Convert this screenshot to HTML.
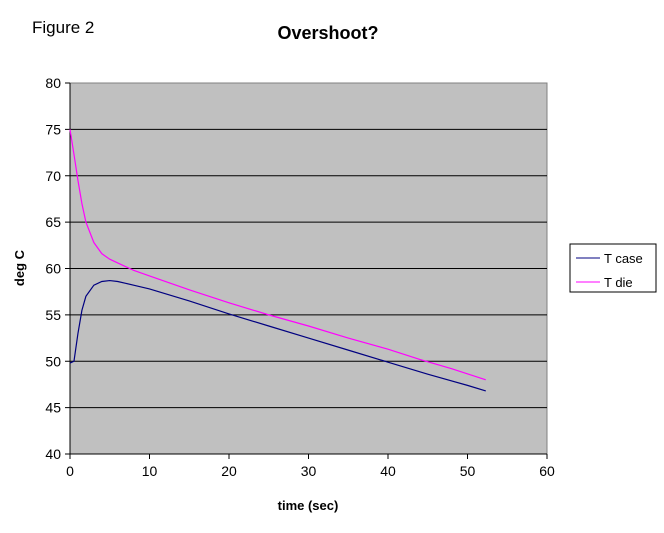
<!DOCTYPE html>
<html><head><meta charset="utf-8"><style>
body{margin:0;background:#fff;font-family:"Liberation Sans",Arial,sans-serif;}
</style></head><body>
<svg width="664" height="528" xmlns="http://www.w3.org/2000/svg" font-family="Liberation Sans, Arial, sans-serif">
<text x="32" y="33" font-size="17">Figure 2</text>
<text x="328" y="39" font-size="18" font-weight="bold" text-anchor="middle">Overshoot?</text>
<rect x="70" y="83" width="477" height="371" fill="#c0c0c0" stroke="#808080"/>
<g id="grid"></g><g id="axes"></g><g id="series"></g>
<text x="308" y="510" font-size="13" font-weight="bold" text-anchor="middle">time (sec)</text>
<text transform="translate(24,268) rotate(-90)" font-size="13" font-weight="bold" text-anchor="middle">deg C</text>
<g>
<rect x="570" y="244" width="86" height="48" fill="#fff" stroke="#000"/>
<line x1="576" y1="258" x2="600" y2="258" stroke="#000080"/>
<text x="604" y="263" font-size="13">T case</text>
<line x1="576" y1="282" x2="600" y2="282" stroke="#ff00ff"/>
<text x="604" y="287" font-size="13">T die</text>
</g>
</svg>
<script>
const xTicks=[0,10,20,30,40,50,60];
const yTicks=[40,45,50,55,60,65,70,75,80];
const timeDie=[0,0.5,1,1.5,2,3,4,5,6,8,10,15,20,25,30,35,40,44,48,52.3];
const tDie=[75,72.3,69.5,67,65,62.8,61.6,61,60.6,59.8,59.2,57.7,56.3,55,53.8,52.5,51.3,50.2,49.2,48];
const timeCase=[0,0.5,1,1.5,2,3,4,5,6,7,8,10,15,20,25,30,35,40,45,50,52.3];
const tCase=[49.8,50,53,55.5,57,58.2,58.6,58.7,58.6,58.4,58.2,57.8,56.5,55.1,53.8,52.5,51.2,49.9,48.6,47.4,46.8];
const X0=70,X1=547,Y0=454,Y1=83;
const sx=v=>X0+(v-0)/60*(X1-X0);
const sy=v=>Y0-(v-40)/40*(Y0-Y1);
const NS="http://www.w3.org/2000/svg";
function mk(tag,attrs,parent){const e=document.createElementNS(NS,tag);for(const k in attrs)e.setAttribute(k,attrs[k]);parent.appendChild(e);return e;}
const grid=document.getElementById('grid'),axes=document.getElementById('axes'),ser=document.getElementById('series');
yTicks.forEach(v=>{
 if(v>40&&v<80){const l=mk('line',{x1:X0,x2:X1,y1:sy(v),y2:sy(v),stroke:'#000'},grid);
 
 }
 const t=mk('line',{x1:X0-5,x2:X0,y1:sy(v),y2:sy(v),stroke:'#000'},axes);
 
 
 const tx=mk('text',{x:X0-9,y:sy(v)+5,'font-size':14,'text-anchor':'end'},axes);tx.textContent=v;
 
 
});
xTicks.forEach(v=>{
 const t=mk('line',{x1:sx(v),x2:sx(v),y1:Y0,y2:Y0+5,stroke:'#000'},axes);
 
 
 const tx=mk('text',{x:sx(v),y:Y0+22,'font-size':14,'text-anchor':'middle'},axes);tx.textContent=v;
 
 
});
const ax=mk('path',{d:`M${X0},${Y1}V${Y0}H${X1}`,stroke:'#000',fill:'none'},axes);


function line(xs,ys,color,name){
 const p=mk('polyline',{points:xs.map((x,i)=>sx(x)+','+sy(ys[i])).join(' '),fill:'none',stroke:color,'stroke-width':1.2},ser);
 
 
}
line(timeCase,tCase,'#000080','series-t-case');
line(timeDie,tDie,'#ff00ff','series-t-die');
</script>
</body></html>
